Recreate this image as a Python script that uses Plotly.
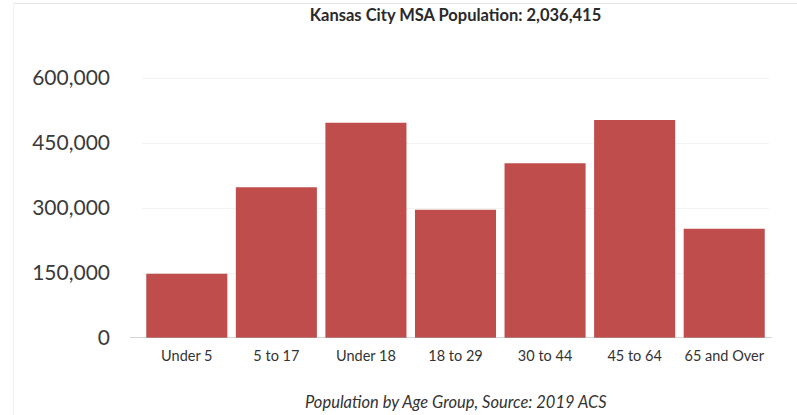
import plotly.graph_objects as go

categories = ["Under 5", "5 to 17", "Under 18", "18 to 29", "30 to 44", "45 to 64", "65 and Over"]
population = [148000, 348000, 497000, 296000, 403000, 503000, 252000]
y_ticks = [0, 150000, 300000, 450000, 600000]
y_tick_labels = ["0", "150,000", "300,000", "450,000", "600,000"]
title_text = "Kansas City MSA Population: 2,036,415"
caption_text = "Population by Age Group, Source: 2019 ACS"

fig = go.Figure(go.Bar(
    x=categories, y=population,
    marker=dict(color="#BF4D4B", line=dict(width=0)),
    hoverinfo="x+y",
))

fig.update_layout(
    width=797, height=415,
    margin=dict(l=142, r=28, t=65, b=77),
    paper_bgcolor="white", plot_bgcolor="white",
    bargap=0.095,
    font=dict(family="Lato", color="#333333"),
    showlegend=False,
    title=dict(text=title_text, x=0.5, xref="paper", y=0.9639, yref="container",
               yanchor="middle", font=dict(family="Lato", size=16.5, color="#2a2a2a", weight="bold")),
    xaxis=dict(showline=False, showgrid=False, ticks="", tickfont=dict(size=14.5, color="#333333"),
               ticklabelstandoff=7, fixedrange=True),
    yaxis=dict(range=[0, 630000], tickvals=y_ticks, ticktext=y_tick_labels,
               showgrid=True, gridcolor="#f3f3f3", zeroline=False, showline=False,
               tickfont=dict(size=21, color="#3a3a3a"), ticklabelstandoff=31, fixedrange=True),
    shapes=[
        dict(type="line", xref="paper", yref="y", x0=-0.019, x1=1.005, y0=0, y1=0,
             line=dict(color="#a8a8a8", width=1)),
        dict(type="line", xref="paper", yref="paper", x0=-0.205, x1=1.06, y0=1.2255, y1=1.2255,
             line=dict(color="#e2e2e2", width=1)),
        dict(type="line", xref="paper", yref="paper", x0=-0.205, x1=-0.205, y0=1.2255, y1=-0.31,
             line=dict(color="#f2f2f2", width=1)),
    ],
    annotations=[
        dict(text=caption_text, xref="paper", yref="paper", x=0.5, y=-0.2347,
             xanchor="center", yanchor="middle", showarrow=False,
             font=dict(family="Lato", size=16.5, color="#333333", style="italic")),
    ],
)

fig.write_html("out.html", config={"displayModeBar": False},
               post_script="document.body.style.margin='0px';")
